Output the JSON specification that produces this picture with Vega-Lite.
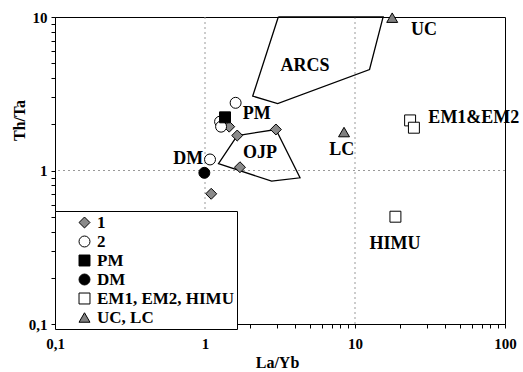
{
  "$schema": "https://vega.github.io/schema/vega-lite/v6.json",
  "width": 450,
  "height": 307,
  "autosize": "none",
  "padding": {"left": 55, "top": 17, "right": 18, "bottom": 48},
  "background": "white",
  "config": {
    "font": "Liberation Serif",
    "view": {"stroke": "black", "strokeWidth": 1},
    "axis": {
      "domainColor": "black", "tickColor": "black", "tickSize": 4, "grid": false,
      "labelFont": "Liberation Serif", "labelFontWeight": "bold", "labelFontSize": 15, "labelColor": "black",
      "titleFont": "Liberation Serif", "titleFontWeight": "bold", "titleFontSize": 16, "titleColor": "black",
      "labelOverlap": false, "labelFlush": false
    },
    "legend": {
      "orient": "none", "legendX": 0, "legendY": 194, "direction": "vertical",
      "fillColor": "white", "strokeColor": "black", "padding": 3, "cornerRadius": 0,
      "symbolOffset": 18, "symbolSize": 120, "symbolStrokeWidth": 1,
      "labelFont": "Liberation Serif", "labelFontWeight": "bold", "labelFontSize": 17, "labelColor": "black",
      "labelOffset": 4, "rowPadding": 1, "labelLimit": 300
    }
  },
  "datasets": {
    "pts": [
      {"x": 1.10, "y": 0.705, "group": "1"},
      {"x": 1.71, "y": 1.05, "group": "1"},
      {"x": 1.64, "y": 1.69, "group": "1"},
      {"x": 2.97, "y": 1.85, "group": "1"},
      {"x": 1.45, "y": 1.93, "group": "1"},
      {"x": 1.60, "y": 2.76, "group": "2"},
      {"x": 1.26, "y": 2.08, "group": "2"},
      {"x": 1.28, "y": 1.93, "group": "2"},
      {"x": 1.08, "y": 1.18, "group": "2"},
      {"x": 1.36, "y": 2.22, "group": "PM"},
      {"x": 0.99, "y": 0.966, "group": "DM"},
      {"x": 23.3, "y": 2.12, "group": "EM1, EM2, HIMU"},
      {"x": 24.7, "y": 1.90, "group": "EM1, EM2, HIMU"},
      {"x": 18.6, "y": 0.50, "group": "EM1, EM2, HIMU"},
      {"x": 17.7, "y": 9.9, "group": "UC, LC"},
      {"x": 8.45, "y": 1.78, "group": "UC, LC"}
    ],
    "polys": [
      {"poly": "ARCS", "o": 1, "x": 3.08, "y": 10.0},
      {"poly": "ARCS", "o": 2, "x": 15.4, "y": 10.0},
      {"poly": "ARCS", "o": 3, "x": 12.5, "y": 4.55},
      {"poly": "ARCS", "o": 4, "x": 3.05, "y": 2.73},
      {"poly": "ARCS", "o": 5, "x": 2.08, "y": 3.05},
      {"poly": "ARCS", "o": 6, "x": 3.08, "y": 10.0},
      {"poly": "OJP", "o": 1, "x": 1.64, "y": 1.69},
      {"poly": "OJP", "o": 2, "x": 2.97, "y": 1.85},
      {"poly": "OJP", "o": 3, "x": 4.30, "y": 0.896},
      {"poly": "OJP", "o": 4, "x": 2.78, "y": 0.852},
      {"poly": "OJP", "o": 5, "x": 1.23, "y": 1.11},
      {"poly": "OJP", "o": 6, "x": 1.64, "y": 1.69}
    ],
    "labels": [
      {"t": "ARCS", "x": 4.64, "y": 4.76},
      {"t": "UC", "x": 28.8, "y": 8.17},
      {"t": "PM", "x": 2.21, "y": 2.32},
      {"t": "OJP", "x": 2.33, "y": 1.30},
      {"t": "DM", "x": 0.774, "y": 1.19},
      {"t": "LC", "x": 8.15, "y": 1.37},
      {"t": "HIMU", "x": 18.5, "y": 0.334},
      {"t": "EM1&EM2", "x": 62, "y": 2.21}
    ],
    "gx": [{"v": 1}, {"v": 10}],
    "gy": [{"v": 1}]
  },
  "layer": [
    {
      "data": {"name": "gx"},
      "mark": {"type": "rule", "color": "#999999", "strokeDash": [2, 3], "strokeWidth": 1},
      "encoding": {"x": {"field": "v", "type": "quantitative", "scale": {"type": "log", "domain": [0.1, 100], "nice": false}}}
    },
    {
      "data": {"name": "gy"},
      "mark": {"type": "rule", "color": "#999999", "strokeDash": [2, 3], "strokeWidth": 1},
      "encoding": {"y": {"field": "v", "type": "quantitative", "scale": {"type": "log", "domain": [0.1, 10], "nice": false}}}
    },
    {
      "data": {"name": "polys"},
      "mark": {"type": "line", "color": "black", "strokeWidth": 1.3},
      "encoding": {
        "x": {"field": "x", "type": "quantitative"},
        "y": {"field": "y", "type": "quantitative"},
        "detail": {"field": "poly"},
        "order": {"field": "o", "type": "quantitative"}
      }
    },
    {
      "data": {"name": "pts"},
      "mark": {"type": "point", "filled": true, "strokeWidth": 1, "opacity": 1, "size": 120},
      "encoding": {
        "x": {
          "field": "x", "type": "quantitative", "title": "La/Yb",
          "scale": {"type": "log", "domain": [0.1, 100], "nice": false},
          "axis": {
            "values": [0.1,0.2,0.3,0.4,0.5,0.6,0.7,0.8,0.9,1,2,3,4,5,6,7,8,9,10,20,30,40,50,60,70,80,90,100],
            "labelExpr": "datum.value == 0.1 ? '0,1' : datum.value == 1 ? '1' : datum.value == 10 ? '10' : datum.value == 100 ? '100' : ''",
            "labelPadding": 8,
            "titleX": 222, "titleY": 38, "titleBaseline": "middle"
          }
        },
        "y": {
          "field": "y", "type": "quantitative", "title": "Th/Ta",
          "scale": {"type": "log", "domain": [0.1, 10], "nice": false},
          "axis": {
            "values": [0.1,0.2,0.3,0.4,0.5,0.6,0.7,0.8,0.9,1,2,3,4,5,6,7,8,9,10],
            "labelExpr": "datum.value == 0.1 ? '0,1' : datum.value == 1 ? '1' : datum.value == 10 ? '10' : ''",
            "labelPadding": 4,
            "titleX": -36, "titleY": 103, "titleBaseline": "middle", "titleAngle": -90
          }
        },
        "shape": {
          "field": "group", "type": "nominal", "title": null,
          "scale": {"domain": ["1", "2", "PM", "DM", "EM1, EM2, HIMU", "UC, LC"], "range": ["diamond", "circle", "square", "circle", "square", "triangle-up"]}
        },
        "fill": {
          "field": "group", "type": "nominal", "title": null,
          "scale": {"domain": ["1", "2", "PM", "DM", "EM1, EM2, HIMU", "UC, LC"], "range": ["#8a8a8a", "white", "black", "black", "white", "#808080"]}
        },
        "stroke": {
          "field": "group", "type": "nominal", "title": null,
          "scale": {"domain": ["1", "2", "PM", "DM", "EM1, EM2, HIMU", "UC, LC"], "range": ["black", "black", "black", "black", "black", "black"]}
        }
      }
    },
    {
      "data": {"name": "labels"},
      "mark": {"type": "text", "font": "Liberation Serif", "fontWeight": "bold", "fontSize": 18, "color": "black", "baseline": "middle", "align": "center"},
      "encoding": {
        "x": {"field": "x", "type": "quantitative"},
        "y": {"field": "y", "type": "quantitative"},
        "text": {"field": "t"}
      }
    }
  ]
}
